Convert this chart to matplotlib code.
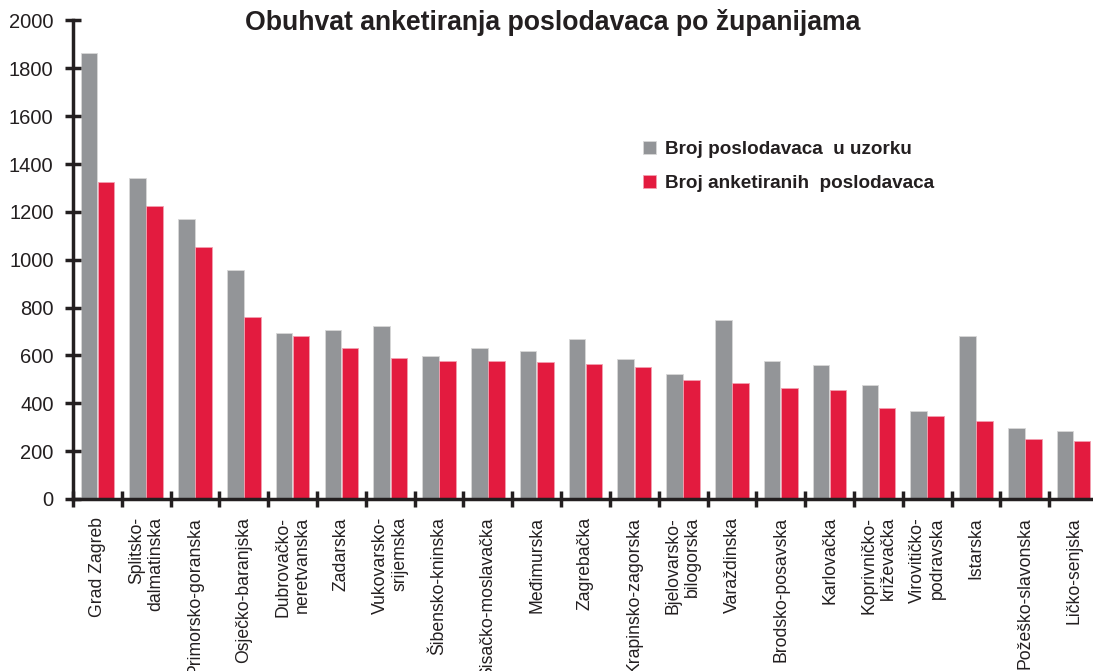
#
# Imports
#
from matplotlib import pyplot as plt
import numpy as np

#
# Data
#
zupanije = [
    'Grad Zagreb', 'Splitsko-\ndalmatinska', 'Primorsko-goranska',
    'Osječko-baranjska', 'Dubrovačko-\nneretvanska', 'Zadarska',
    'Vukovarsko-\nsrijemska', 'Šibensko-kninska', 'Sisačko-moslavačka',
    'Međimurska', 'Zagrebačka', 'Krapinsko-zagorska', 'Bjelovarsko-\nbilogorska',
    'Varaždinska', 'Brodsko-posavska', 'Karlovačka', 'Koprivničko-\nkriževačka',
    'Virovitičko-\npodravska', 'Istarska', 'Požeško-slavonska', 'Ličko-senjska',
]
u_uzorku = [1865, 1342, 1170, 959, 694, 707, 722, 598, 632, 619, 667,
            584, 523, 748, 577, 558, 476, 367, 681, 298, 285]
anketirani = [1326, 1225, 1054, 761, 681, 632, 591, 577, 577, 572, 565,
              551, 497, 483, 463, 455, 381, 347, 326, 251, 244]

GREY = '#939598'
RED = '#e31b3f'
DARK = '#231f20'

#
# main
#
if __name__ == "__main__":
    plt.rcParams['font.family'] = ['Liberation Sans', 'DejaVu Sans']
    fig = plt.figure(figsize=(10.93, 6.71), dpi=100)
    ax = fig.add_axes([73 / 1093, 172 / 671, 1025 / 1093, 478.5 / 671])

    x = np.arange(len(zupanije))
    w = 0.34
    ax.bar(x - 0.175, u_uzorku, w, color=GREY, edgecolor='#d8d8d8',
           linewidth=0.6, label='Broj poslodavaca  u uzorku')
    ax.bar(x + 0.175, anketirani, w, color=RED, edgecolor='#f3a0b0',
           linewidth=0.6, label='Broj anketiranih  poslodavaca')

    ax.set_xlim(-0.5, len(zupanije) - 0.5)
    ax.set_ylim(0, 2000)
    ax.set_yticks(np.arange(0, 2001, 200))
    ax.tick_params(axis='y', labelsize=14.5, direction='inout', length=12,
                   width=2.5, color=DARK, labelcolor=DARK, pad=8)

    # x ticks sit between categories, labels at the centres
    ax.set_xticks(np.arange(len(zupanije) + 1) - 0.5)
    ax.set_xticklabels([])
    ax.set_xticks(x, minor=True)
    ax.set_xticklabels(zupanije, minor=True, rotation=90, fontsize=12.7,
                       va='top', ha='center', multialignment='right', color=DARK)
    ax.tick_params(axis='x', which='major', direction='inout', length=12,
                   width=2.5, color=DARK)
    ax.tick_params(axis='x', which='minor', length=0, pad=13)

    for s in ['top', 'right']:
        ax.spines[s].set_visible(False)
    for s in ['left', 'bottom']:
        ax.spines[s].set_linewidth(2.5)
        ax.spines[s].set_color(DARK)

    fig.text(553 / 1093, 1 - 22 / 671,
             'Obuhvat anketiranja poslodavaca po županijama',
             ha='center', va='center', fontsize=19.2, fontweight='bold', color=DARK)

    leg = ax.legend(loc='upper left', bbox_to_anchor=(626 / 1093, 1 - 124 / 671),
                    bbox_transform=fig.transFigure, frameon=False,
                    prop={'weight': 'bold', 'size': 13.6},
                    handlelength=0.7, handleheight=0.7, handletextpad=0.45,
                    labelspacing=0.9)
    for t in leg.get_texts():
        t.set_color(DARK)

    fig.savefig('out.png', dpi=100)
